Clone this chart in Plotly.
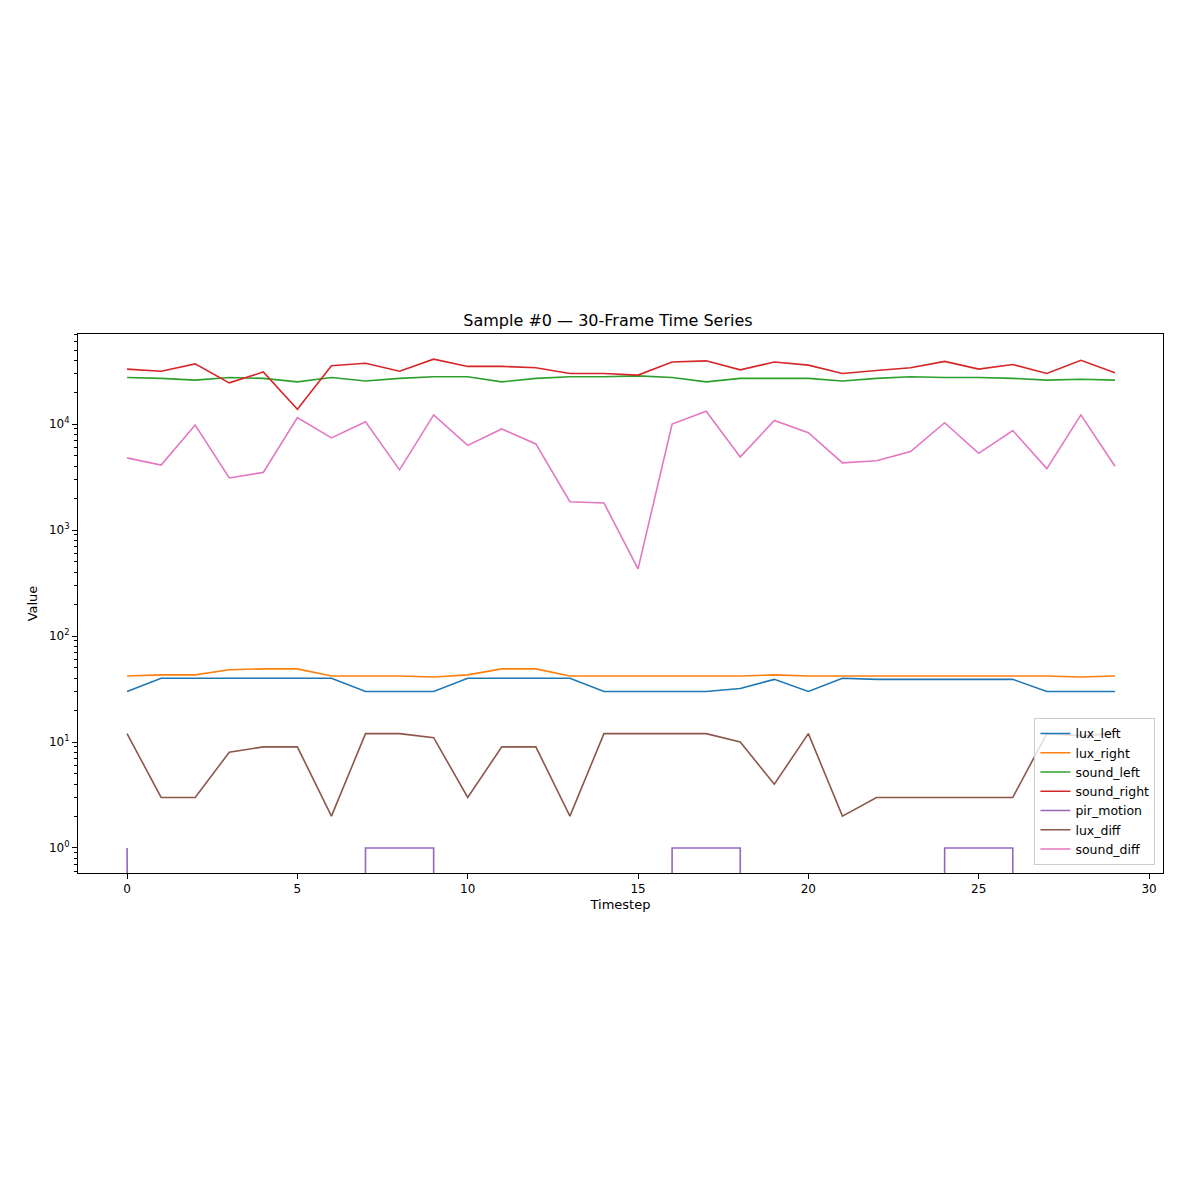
import plotly.graph_objects as go

timestep = list(range(30))
lux_left = [30,40,40,40,40,40,40,30,30,30,40,40,40,40,30,30,30,30,32,39,30,40,39,39,39,39,39,30,30,30]
lux_right = [42,43,43,48,49,49,42,42,42,41,43,49,49,42,42,42,42,42,42,43,42,42,42,42,42,42,42,42,41,42]
sound_left = [27500,27000,26000,27500,27000,25000,27500,25500,27000,28000,28000,25000,27000,28000,28000,28500,27500,25000,27000,27000,27000,25500,27000,28000,27500,27500,27000,26000,26500,26000]
sound_right = [33000,31500,37000,24500,31000,13800,35500,37500,31500,41000,35000,35000,34000,30000,30000,29000,38500,39500,32500,38500,36000,30000,32000,34000,39000,33000,36500,30000,40000,30500]
pir_motion = [1,0,0,0,0,0,0,1,1,1,0,0,0,0,0,0,1,1,1,0,0,0,0,0,1,1,1,0,0,0]
lux_diff = [12,3,3,8,9,9,2,12,12,11,3,9,9,2,12,12,12,12,10,4,12,2,3,3,3,3,3,12,11.5,12]
sound_diff = [4800,4100,9800,3100,3500,11500,7400,10500,3700,12200,6300,9000,6500,1850,1800,430,10000,13200,4900,10800,8300,4300,4500,5500,10300,5300,8700,3800,12200,4000]

series = [("lux_left", lux_left, "#1f77b4"), ("lux_right", lux_right, "#ff7f0e"),
          ("sound_left", sound_left, "#2ca02c"), ("sound_right", sound_right, "#d62728"),
          ("pir_motion", pir_motion, "#9467bd"), ("lux_diff", lux_diff, "#8c564b"),
          ("sound_diff", sound_diff, "#e377c2")]

fig = go.Figure()
for name, vals, col in series:
    y = [v if v > 0 else 1e-300 for v in vals]
    fig.add_trace(go.Scatter(x=timestep, y=y, mode="lines", name=name,
                             line=dict(color=col, width=1.6)))

minor_vals = [m * 10**d for d in range(-1, 5) for m in range(2, 10)]
axis_common = dict(showgrid=False, zeroline=False, showline=True, linecolor="black",
                   mirror=True, ticks="outside", ticklen=5, tickcolor="black",
                   tickfont=dict(size=12, color="black"))
fig.update_layout(
    width=1200, height=1200, paper_bgcolor="white", plot_bgcolor="white",
    font=dict(family="DejaVu Sans", color="black"),
    title=dict(text="Sample #0 — 30-Frame Time Series", x=0.5, xanchor="center",
               y=1 - 312/1200, yanchor="middle", font=dict(size=16)),
    margin=dict(l=70, r=45, t=326, b=335),
    xaxis=dict(range=[-1.44, 30.41], tickvals=[0,5,10,15,20,25,30],
               title=dict(text="Timestep", font=dict(size=13), standoff=4), **axis_common),
    yaxis=dict(type="log", range=[-0.236, 4.85],
               tickvals=[1,10,100,1000,10000],
               ticktext=["10<sup>0</sup>","10<sup>1</sup>","10<sup>2</sup>","10<sup>3</sup>","10<sup>4</sup>"],
               minor=dict(tickvals=minor_vals, ticks="outside", ticklen=3, tickcolor="black"),
               title=dict(text="Value", font=dict(size=13), standoff=8), **axis_common),
    legend=dict(x=0.993, y=0.015, xanchor="right", yanchor="bottom",
                bordercolor="#cccccc", borderwidth=1, bgcolor="rgba(255,255,255,0.8)",
                font=dict(size=12.5), tracegroupgap=0),
    showlegend=True,
)
fig.write_html("out.html")
